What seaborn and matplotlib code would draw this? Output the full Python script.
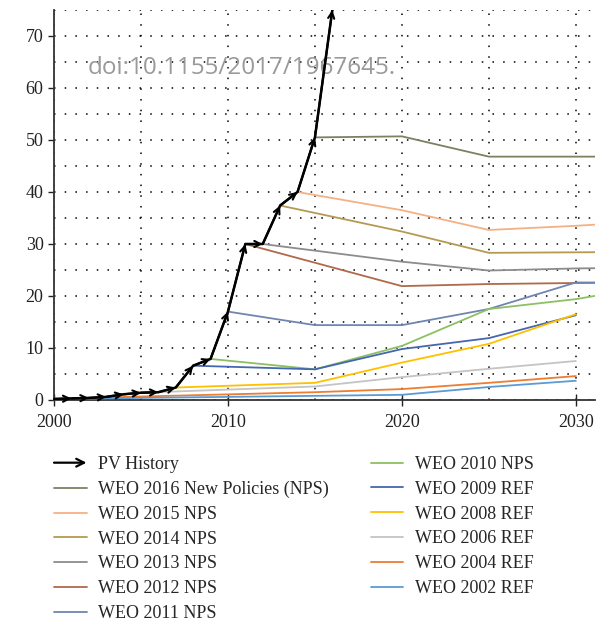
#!/usr/bin/env python3
"""Annual PV additions vs. WEO projections (GW)."""

import matplotlib

matplotlib.use("Agg")
import matplotlib.pyplot as plt
import pandas as pd
import seaborn as sns
from matplotlib.legend_handler import HandlerBase
from matplotlib.lines import Line2D
from matplotlib.patches import FancyArrowPatch
from matplotlib.ticker import MultipleLocator

# PV history (GW per year)
hist_years = list(range(2000, 2017))
hist_gw = [0.2, 0.3, 0.4, 0.6, 1.1, 1.4, 1.5, 2.4, 6.6, 7.9, 17.0, 30.0, 30.0, 37.4, 40.0, 50.5, 75.0]

# WEO projections, newest first (legend order)
weo_labels = [
    "WEO 2016 New Policies (NPS)",
    "WEO 2015 NPS",
    "WEO 2014 NPS",
    "WEO 2013 NPS",
    "WEO 2012 NPS",
    "WEO 2011 NPS",
    "WEO 2010 NPS",
    "WEO 2009 REF",
    "WEO 2008 REF",
    "WEO 2006 REF",
    "WEO 2004 REF",
    "WEO 2002 REF",
]
weo_years = [
    [2015, 2020, 2025, 2030, 2035],
    [2014, 2020, 2025, 2030, 2035],
    [2013, 2020, 2025, 2030, 2035],
    [2012, 2020, 2025, 2030, 2035],
    [2011, 2020, 2025, 2030, 2035],
    [2010, 2015, 2020, 2025, 2030, 2035],
    [2009, 2015, 2020, 2025, 2030, 2035],
    [2008, 2015, 2020, 2025, 2030],
    [2007, 2015, 2020, 2025, 2030],
    [2005, 2015, 2020, 2025, 2030],
    [2003, 2015, 2020, 2025, 2030],
    [2000, 2015, 2020, 2025, 2030],
]
weo_gw = [
    [50.5, 50.7, 46.8, 46.8, 46.8],
    [40.0, 36.5, 32.7, 33.5, 34.5],
    [37.4, 32.4, 28.3, 28.4, 28.5],
    [30.0, 26.6, 24.9, 25.3, 25.5],
    [30.0, 21.9, 22.3, 22.5, 22.6],
    [17.0, 14.4, 14.4, 17.5, 22.6, 22.6],
    [7.9, 5.9, 10.4, 17.5, 19.4, 22.2],
    [6.6, 5.9, 9.8, 11.9, 16.3],
    [2.4, 3.3, 7.2, 10.8, 16.5],
    [1.4, 2.6, 4.4, 6.0, 7.5],
    [0.5, 1.5, 2.1, 3.3, 4.6],
    [0.2, 0.8, 1.0, 2.5, 3.7],
]
weo_colors = [
    "#7b8262", "#f4b183", "#b59a52", "#8c8c8c", "#b0694a", "#6f86b0",
    "#8cc063", "#4566b0", "#ffc000", "#c4c4c4", "#ed7d31", "#5b9bd5",
]


class HandlerArrow(HandlerBase):
    def create_artists(self, legend, orig_handle, xdescent, ydescent, width, height,
                       fontsize, trans):
        y = height / 2 - ydescent
        arrow = FancyArrowPatch((-xdescent, y), (width - xdescent, y), arrowstyle="->",
                                mutation_scale=14, lw=1.6, color="black",
                                shrinkA=0, shrinkB=0, transform=trans)
        return [arrow]


def main() -> None:
    sns.set_theme(style="ticks")
    plt.rcParams["font.family"] = ["Liberation Serif", "DejaVu Serif"]

    rows = []
    for label, years, values in zip(weo_labels, weo_years, weo_gw):
        for yr, val in zip(years, values):
            rows.append({"series": label, "year": yr, "gw": val})
    weo = pd.DataFrame(rows)
    hist = pd.DataFrame({"year": hist_years, "gw": hist_gw})

    fig = plt.figure(figsize=(6.05, 6.24), dpi=100)
    ax = fig.add_axes([54 / 605, 1 - 400 / 624, 541 / 605, 390 / 624])

    sns.lineplot(data=weo, x="year", y="gw", hue="series", hue_order=weo_labels,
                 palette=dict(zip(weo_labels, weo_colors)), lw=1.3, legend=False,
                 sort=False, ax=ax, zorder=3)
    sns.lineplot(data=hist, x="year", y="gw", color="black", lw=1.8, legend=False,
                 ax=ax, zorder=5)
    for i in range(len(hist_years) - 1):
        ax.annotate("", xy=(hist_years[i + 1], hist_gw[i + 1]), xytext=(hist_years[i], hist_gw[i]),
                    arrowprops=dict(arrowstyle="->", lw=1.5, color="black", shrinkA=0, shrinkB=0,
                                    mutation_scale=11),
                    zorder=6, annotation_clip=False)

    ax.set_xlim(2000, 2031.1)
    ax.set_ylim(0, 75)
    ax.xaxis.set_major_locator(MultipleLocator(10))
    ax.xaxis.set_minor_locator(MultipleLocator(5))
    ax.yaxis.set_major_locator(MultipleLocator(10))
    ax.yaxis.set_minor_locator(MultipleLocator(5))
    ax.grid(which="both", color="black", lw=1.1, ls=(0, (1, 6)), zorder=1)
    ax.set_yticks([0, 10, 20, 30, 40, 50, 60, 70])
    ax.tick_params(axis="x", which="major", direction="inout", length=8, width=1,
                   labelsize=13, colors="#222", pad=6)
    ax.tick_params(axis="y", which="major", direction="out", length=4, width=1,
                   labelsize=13, colors="#222")
    ax.tick_params(which="minor", length=0)
    ax.set_xlabel("")
    ax.set_ylabel("")
    for side in ("top", "right"):
        ax.spines[side].set_visible(False)
    for side in ("left", "bottom"):
        ax.spines[side].set_color("#333")
        ax.spines[side].set_linewidth(1.3)

    ax.text(0.063, 0.835, "doi:10.1155/2017/1967645.", transform=ax.transAxes,
            fontsize=17.5, color="#9a9a9a", family=["Open Sans", "DejaVu Sans"], zorder=2)

    handles = [FancyArrowPatch((0, 0), (1, 0))]
    handles += [Line2D([], [], color=c, lw=1.3) for c in weo_colors]
    labels = ["PV History"] + weo_labels
    fig.legend(handles, labels, loc="upper left", bbox_to_anchor=(54 / 605, 1 - 456 / 624),
               ncol=2, frameon=False, fontsize=13, handlelength=1.8, handletextpad=0.65,
               columnspacing=2.3, labelspacing=0.43, borderaxespad=0, borderpad=0,
               handler_map={FancyArrowPatch: HandlerArrow()})

    fig.savefig("out.png", dpi=100)
    plt.close(fig)


if __name__ == "__main__":
    main()
